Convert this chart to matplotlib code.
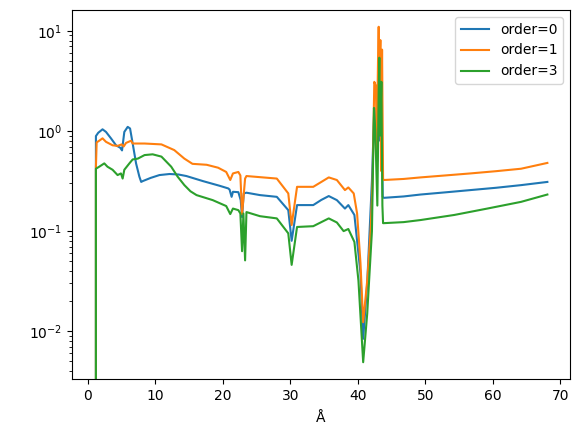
import numpy as np
import matplotlib
matplotlib.use("Agg")
import matplotlib.pyplot as plt

# values (x in angstrom, y on log scale)
x0 = [1.0, 1.19, 1.53, 2.17, 2.68, 3.42, 4.17, 4.8, 5.06, 5.4, 5.9, 6.25, 6.64, 7.14, 7.63, 7.9,
      8.13, 9.3, 10.6, 12.1, 13.4, 14.6, 17.05, 19.5, 20.8, 21.0, 21.3, 21.5, 22.3, 22.65, 22.85, 23.1, 23.5,
      25.5, 28.0, 29.7, 30.2, 31.0, 33.4, 34.6, 35.7, 36.9, 38.1, 38.6, 39.5, 40.4, 40.8, 41.4, 42.1,
      42.45, 42.6, 42.9, 43.1, 43.3, 43.5, 43.7, 43.85, 46.8, 49.3, 53.0, 56.7, 60.5, 64.2, 68.1]
y0 = [0, 0.89, 0.96, 1.04, 0.98, 0.845, 0.72, 0.68, 0.64, 0.98, 1.10, 1.06, 0.75, 0.475, 0.35, 0.31,
      0.316, 0.34, 0.363, 0.372, 0.368, 0.355, 0.316, 0.284, 0.267, 0.26, 0.22, 0.247, 0.245, 0.204, 0.138, 0.238, 0.242,
      0.229, 0.22, 0.162, 0.08, 0.182, 0.182, 0.205, 0.224, 0.204, 0.168, 0.182, 0.145, 0.038, 0.0084, 0.03, 0.32,
      1.7, 0.9, 0.5, 4.0, 0.8, 2.5, 0.22, 0.215, 0.222, 0.232, 0.244, 0.257, 0.271, 0.288, 0.31]

x1 = [1.0, 1.19, 1.3, 1.68, 2.17, 2.68, 3.66, 4.4, 5.0, 5.3, 5.65, 6.4, 6.64, 8.4, 10.9, 12.8,
      14.3, 15.5, 17.6, 19.3, 20.5, 21.1, 21.5, 22.3, 22.6, 22.85, 23.3, 23.5, 28.0, 29.7, 30.2, 31.0,
      33.4, 34.6, 35.7, 36.9, 38.1, 38.6, 39.4, 39.9, 40.4, 40.8, 41.4, 41.9, 42.2, 42.45, 42.7, 42.8,
      43.0, 43.1, 43.2, 43.35, 43.45, 43.6, 43.75, 43.85, 46.8, 49.3, 53.0, 56.7, 60.5, 64.2, 68.1]
y1 = [0, 0.44, 0.77, 0.80, 0.845, 0.78, 0.72, 0.71, 0.735, 0.70, 0.76, 0.80, 0.75, 0.75, 0.735, 0.645,
      0.53, 0.47, 0.46, 0.43, 0.39, 0.324, 0.377, 0.39, 0.36, 0.148, 0.335, 0.355, 0.335, 0.238, 0.115, 0.277,
      0.277, 0.31, 0.344, 0.324, 0.257, 0.273, 0.238, 0.15, 0.048, 0.0123, 0.032, 0.10, 0.32, 3.1, 2.8, 0.6,
      5.0, 11.0, 3.0, 8.1, 0.4, 6.5, 0.33, 0.324, 0.332, 0.344, 0.36, 0.377, 0.397, 0.42, 0.48]

x3 = [1.0, 1.19, 1.68, 2.43, 2.9, 3.66, 4.17, 4.4, 4.9, 5.15, 5.4, 6.15, 6.64, 7.4, 8.4, 9.6,
      10.9, 12.35, 13.3, 14.3, 15.2, 16.1, 18.5, 20.5, 21.1, 21.5, 22.3, 22.6, 22.85, 23.05, 23.3, 23.5,
      25.5, 28.0, 29.7, 30.2, 31.0, 33.4, 34.6, 35.7, 36.9, 37.9, 38.6, 39.5, 40.1, 40.8, 41.4, 42.1,
      42.4, 42.6, 42.9, 43.1, 43.2, 43.3, 43.5, 43.65, 43.75, 46.8, 49.3, 54.3, 59.2, 64.2, 68.1]
y3 = [0, 0.42, 0.44, 0.475, 0.44, 0.41, 0.377, 0.363, 0.377, 0.335, 0.41, 0.475, 0.52, 0.53, 0.575, 0.585,
      0.555, 0.44, 0.35, 0.288, 0.25, 0.229, 0.204, 0.178, 0.148, 0.168, 0.162, 0.15, 0.063, 0.15, 0.051, 0.155,
      0.141, 0.134, 0.095, 0.046, 0.11, 0.112, 0.123, 0.134, 0.122, 0.10, 0.105, 0.078, 0.032, 0.0049, 0.015, 0.10,
      1.7, 1.0, 0.18, 2.5, 5.4, 0.9, 3.1, 0.18, 0.12, 0.123, 0.129, 0.145, 0.168, 0.196, 0.232]

fig = plt.figure(figsize=(5.78, 4.37), dpi=100)
ax = fig.add_axes([72 / 578, 58 / 437, 498 / 578, 369 / 437])

ax.plot(x0, y0, label="order=0")
ax.plot(x1, y1, label="order=1")
ax.plot(x3, y3, label="order=3")
ax.set_yscale("log")
ax.set_xlabel(r"$\mathrm{\AA}$")
ax.legend(loc="upper right")

fig.savefig("out.png", dpi=100)
